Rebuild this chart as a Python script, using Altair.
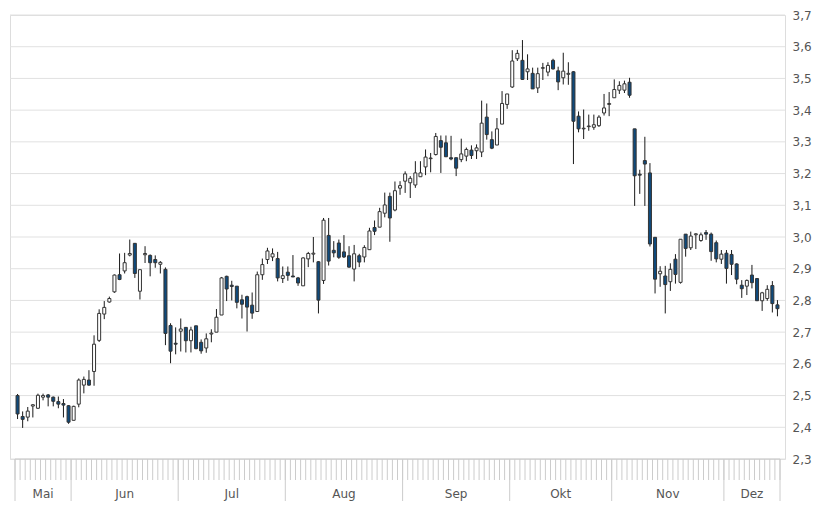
import altair as alt
import pandas as pd

# OHLC (one candle per trading day, May .. Dec)
open_ = [2.500, 2.434, 2.432, 2.467, 2.460, 2.495, 2.502, 2.495, 2.481, 2.475,
         2.468, 2.422, 2.473, 2.533, 2.549, 2.576, 2.674, 2.757, 2.795, 2.827,
         2.881, 2.893, 2.943, 2.980, 2.829, 2.944, 2.942, 2.929, 2.914, 2.898,
         2.721, 2.665, 2.703, 2.715, 2.673, 2.720, 2.668, 2.650, 2.694, 2.700,
         2.754, 2.876, 2.848, 2.845, 2.802, 2.812, 2.785, 2.765, 2.881, 2.929,
         2.937, 2.932, 2.869, 2.889, 2.877, 2.871, 2.846, 2.931, 2.946, 2.922,
         2.863, 3.005, 2.958, 2.981, 2.953, 2.941, 2.899, 2.941, 2.937, 2.960,
         3.030, 3.031, 3.075, 3.128, 3.085, 3.154, 3.176, 3.171, 3.164, 3.190,
         3.221, 3.247, 3.260, 3.304, 3.297, 3.250, 3.250, 3.244, 3.255, 3.274,
         3.272, 3.268, 3.378, 3.307, 3.290, 3.356, 3.418, 3.473, 3.562, 3.557,
         3.521, 3.516, 3.470, 3.532, 3.520, 3.557, 3.524, 3.502, 3.513, 3.521,
         3.381, 3.341, 3.348, 3.346, 3.351, 3.391, 3.418, 3.439, 3.463, 3.463,
         3.488, 3.341, 3.198, 3.241, 3.202, 2.999, 2.884, 2.877, 2.859, 2.930,
         2.857, 3.009, 2.966, 3.007, 2.989, 3.014, 3.009, 2.982, 2.930, 2.949,
         2.945, 2.915, 2.848, 2.845, 2.880, 2.869, 2.799, 2.806, 2.847, 2.786]
high = [2.505, 2.450, 2.464, 2.473, 2.506, 2.506, 2.505, 2.497, 2.497, 2.489,
        2.470, 2.468, 2.554, 2.560, 2.580, 2.690, 2.772, 2.798, 2.812, 2.882,
        2.948, 2.950, 2.992, 2.981, 2.897, 2.971, 2.945, 2.942, 2.924, 2.904,
        2.728, 2.715, 2.743, 2.715, 2.717, 2.720, 2.677, 2.696, 2.709, 2.773,
        2.874, 2.878, 2.862, 2.845, 2.818, 2.815, 2.825, 2.891, 2.932, 2.966,
        2.964, 2.953, 2.907, 2.907, 2.943, 2.874, 2.936, 2.953, 3.000, 2.924,
        3.060, 3.060, 2.987, 2.992, 3.006, 2.971, 2.975, 2.947, 2.974, 3.029,
        3.052, 3.092, 3.140, 3.140, 3.175, 3.176, 3.207, 3.192, 3.239, 3.239,
        3.276, 3.265, 3.328, 3.320, 3.320, 3.319, 3.250, 3.310, 3.282, 3.289,
        3.292, 3.430, 3.421, 3.333, 3.375, 3.460, 3.451, 3.589, 3.590, 3.621,
        3.576, 3.534, 3.534, 3.549, 3.551, 3.562, 3.537, 3.581, 3.551, 3.523,
        3.396, 3.402, 3.386, 3.386, 3.384, 3.451, 3.457, 3.497, 3.491, 3.493,
        3.502, 3.341, 3.212, 3.316, 3.233, 2.999, 2.908, 2.909, 2.917, 2.946,
        2.993, 3.009, 3.017, 3.012, 3.014, 3.022, 3.014, 2.989, 2.959, 2.959,
        2.959, 2.917, 2.864, 2.866, 2.912, 2.869, 2.827, 2.848, 2.861, 2.801]
low = [2.426, 2.398, 2.419, 2.431, 2.458, 2.485, 2.466, 2.466, 2.460, 2.431,
       2.411, 2.422, 2.463, 2.507, 2.531, 2.531, 2.669, 2.741, 2.793, 2.824,
       2.864, 2.885, 2.939, 2.871, 2.803, 2.918, 2.876, 2.903, 2.885, 2.659,
       2.602, 2.630, 2.639, 2.636, 2.636, 2.646, 2.632, 2.635, 2.668, 2.700,
       2.754, 2.798, 2.800, 2.775, 2.743, 2.702, 2.742, 2.765, 2.865, 2.915,
       2.924, 2.860, 2.855, 2.862, 2.874, 2.846, 2.846, 2.905, 2.920, 2.759,
       2.852, 2.910, 2.936, 2.931, 2.934, 2.903, 2.860, 2.905, 2.920, 2.960,
       3.006, 3.031, 3.062, 2.985, 3.081, 3.133, 3.139, 3.123, 3.155, 3.190,
       3.195, 3.204, 3.257, 3.202, 3.253, 3.242, 3.192, 3.236, 3.239, 3.246,
       3.246, 3.252, 3.307, 3.277, 3.290, 3.356, 3.404, 3.470, 3.555, 3.495,
       3.495, 3.467, 3.454, 3.495, 3.507, 3.528, 3.463, 3.481, 3.480, 3.230,
       3.330, 3.309, 3.335, 3.338, 3.347, 3.383, 3.381, 3.439, 3.451, 3.454,
       3.439, 3.098, 3.136, 3.098, 2.970, 2.822, 2.843, 2.759, 2.830, 2.853,
       2.853, 2.938, 2.959, 2.962, 2.985, 2.991, 2.925, 2.920, 2.915, 2.853,
       2.880, 2.851, 2.808, 2.817, 2.838, 2.799, 2.767, 2.799, 2.762, 2.750]
close = [2.442, 2.425, 2.451, 2.471, 2.501, 2.500, 2.495, 2.482, 2.473, 2.470,
         2.416, 2.466, 2.549, 2.551, 2.533, 2.662, 2.759, 2.778, 2.806, 2.880,
         2.866, 2.919, 2.948, 2.885, 2.897, 2.948, 2.919, 2.919, 2.920, 2.696,
         2.640, 2.662, 2.710, 2.673, 2.707, 2.648, 2.641, 2.679, 2.697, 2.747,
         2.871, 2.836, 2.844, 2.794, 2.788, 2.779, 2.760, 2.881, 2.913, 2.956,
         2.947, 2.871, 2.878, 2.879, 2.874, 2.855, 2.934, 2.948, 2.949, 2.801,
         3.053, 2.924, 2.950, 2.936, 2.937, 2.905, 2.947, 2.921, 2.967, 3.019,
         3.018, 3.080, 3.101, 3.060, 3.146, 3.162, 3.199, 3.185, 3.202, 3.202,
         3.252, 3.249, 3.317, 3.283, 3.253, 3.246, 3.217, 3.262, 3.276, 3.257,
         3.281, 3.359, 3.323, 3.280, 3.341, 3.421, 3.451, 3.555, 3.579, 3.497,
         3.530, 3.467, 3.515, 3.534, 3.541, 3.530, 3.489, 3.523, 3.516, 3.365,
         3.341, 3.343, 3.350, 3.354, 3.378, 3.407, 3.421, 3.465, 3.478, 3.483,
         3.447, 3.193, 3.195, 3.230, 2.978, 2.867, 2.892, 2.850, 2.898, 2.882,
         2.993, 2.964, 3.003, 3.010, 3.007, 3.009, 2.954, 2.931, 2.946, 2.901,
         2.914, 2.867, 2.837, 2.863, 2.856, 2.799, 2.824, 2.835, 2.790, 2.774]

months = ["Mai", "Jun", "Jul", "Aug", "Sep", "Okt", "Nov", "Dez"]
month_days = [11, 21, 21, 23, 21, 20, 22, 11]
y_ticks = [2.3, 2.4, 2.5, 2.6, 2.7, 2.8, 2.9, 3.0, 3.1, 3.2, 3.3, 3.4, 3.5, 3.6, 3.7]

n = len(close)
W, H = 775, 444
FONT = "DejaVu Sans"
GREY = "#cccccc"

df = pd.DataFrame({
    "pos": [i + 0.5 for i in range(n)],
    "open": open_, "high": high, "low": low, "close": close,
})
df["lo_body"] = df[["open", "close"]].min(axis=1)
df["hi_body"] = df[["open", "close"]].max(axis=1)
df["down"] = df["close"] < df["open"]

bounds = [0]
for d in month_days:
    bounds.append(bounds[-1] + d)
sep_df = pd.DataFrame({"b": bounds})
tick_df = pd.DataFrame({"t": list(range(n + 1))})
lab_df = pd.DataFrame({
    "m": months,
    "mid": [(bounds[k] + bounds[k + 1]) / 2 for k in range(len(months))],
})
dom_df = pd.DataFrame({"a": [0], "b": [n]})
grid_df = pd.DataFrame({"g": y_ticks})

xscale = alt.Scale(domain=[0, n], nice=False, zero=False)
yscale = alt.Scale(domain=[2.3, 3.7], nice=False, zero=False)

y_axis = alt.Axis(orient="right", values=y_ticks, tickCount=len(y_ticks),
                  grid=False, domain=False, ticks=False, labelPadding=7,
                  title=None, labelOverlap=False, labelFont=FONT,
                  labelFontSize=12, labelColor="#555555",
                  labelExpr="replace(format(datum.value, '.1f'), '.', ',')")

gridlines = alt.Chart(grid_df).mark_rule(color="#e1e1e1", strokeWidth=1).encode(
    y=alt.Y("g:Q", scale=yscale, axis=y_axis),
)

base = alt.Chart(df)

wicks = base.mark_rule(color="#1a1a1a", strokeWidth=1).encode(
    x=alt.X("pos:Q", scale=xscale, axis=None),
    y=alt.Y("low:Q", scale=yscale, axis=y_axis),
    y2="high:Q",
)

bodies = base.mark_bar(size=3, stroke="#333333", strokeWidth=1).encode(
    x=alt.X("pos:Q", scale=xscale, axis=None),
    y=alt.Y("lo_body:Q", scale=yscale, axis=y_axis),
    y2="hi_body:Q",
    fill=alt.condition("datum.down", alt.value("#0f4a7c"), alt.value("#ffffff")),
)

day_ticks = alt.Chart(tick_df).mark_rule(color=GREY, strokeWidth=1).encode(
    x=alt.X("t:Q", scale=xscale, axis=None),
    y=alt.value(H),
    y2=alt.value(H + 21),
)

seps = alt.Chart(sep_df).mark_rule(color=GREY, strokeWidth=1).encode(
    x=alt.X("b:Q", scale=xscale, axis=None),
    y=alt.value(H),
    y2=alt.value(H + 43),
)

domain_line = alt.Chart(dom_df).mark_rule(color=GREY, strokeWidth=1).encode(
    x=alt.X("a:Q", scale=xscale, axis=None),
    x2="b:Q",
    y=alt.value(H),
)

labels = alt.Chart(lab_df).mark_text(font=FONT, fontSize=12, color="#555555",
                                     baseline="middle", align="center").encode(
    x=alt.X("mid:Q", scale=xscale, axis=None),
    y=alt.value(H + 35),
    text="m:N",
)

chart = alt.layer(gridlines, wicks, bodies, day_ticks, seps, domain_line, labels).properties(
    width=W, height=H,
    autosize=alt.AutoSizeParams(type="none"),
    padding={"left": 2, "top": 7, "right": 31, "bottom": 42},
).configure_view(stroke=None).configure(background="white")

chart.save("out.html", embed_options={"renderer": "svg", "actions": False})
